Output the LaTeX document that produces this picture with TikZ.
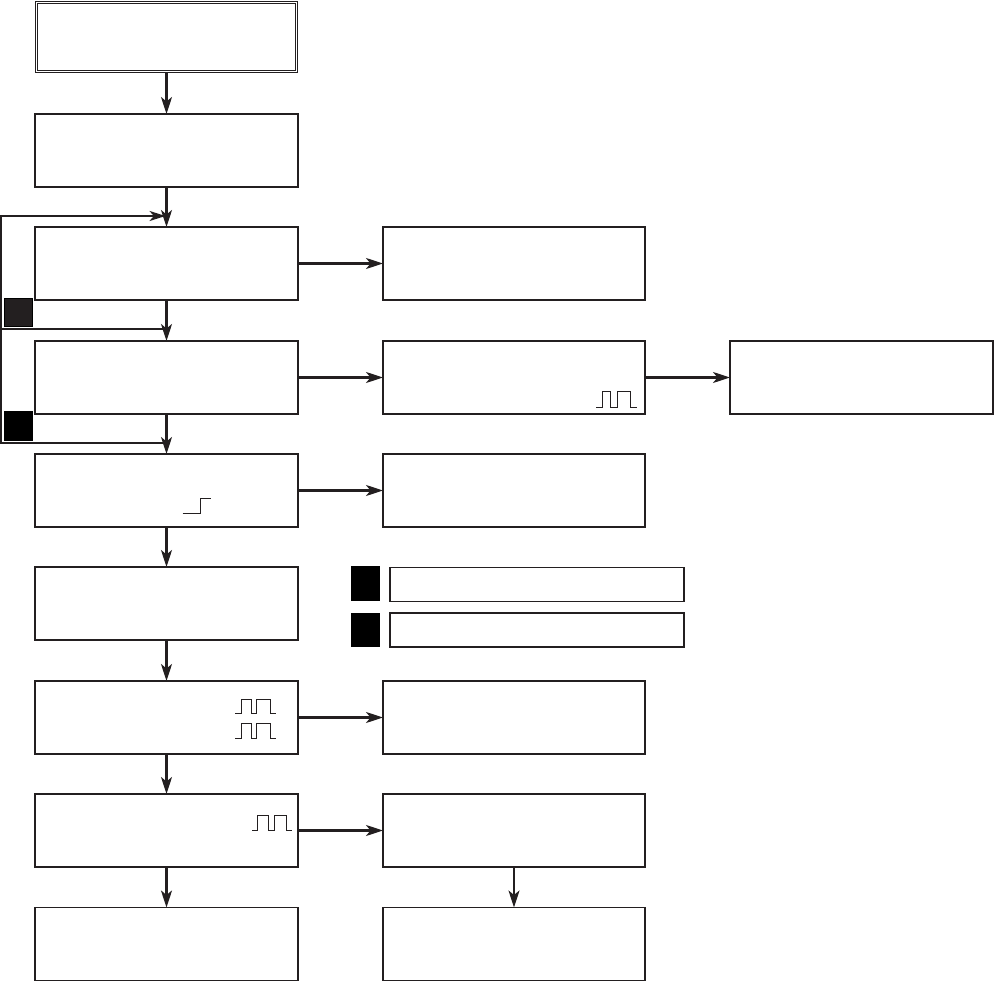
\documentclass[tikz,border=0pt]{standalone}
\usetikzlibrary{arrows.meta}
\definecolor{ink}{RGB}{35,31,32}
\begin{document}
\begin{tikzpicture}[x=1pt,y=-1pt,
  box/.style={draw=ink,line width=1.2pt,minimum width=263pt,minimum height=73pt,inner sep=0pt,outer sep=0pt},
  legbox/.style={draw=ink,line width=1.2pt,minimum width=294pt,minimum height=34pt,inner sep=0pt,outer sep=0pt},
  sq/.style={fill=black,draw=black,line width=0.8pt,minimum width=28pt,minimum height=28pt,inner sep=0pt,outer sep=0pt},
  arr/.style={draw=ink,line width=2.2pt,-{Stealth[length=17pt,width=11pt,inset=4.5pt]}},
  ln/.style={draw=ink,line width=2.2pt},
  sig/.style={draw=ink,line width=1pt}
]
\useasboundingbox (0,0) rectangle (994,981);
% left column
\node[box,line width=1.8pt,minimum width=262pt,minimum height=71pt] (L1) at (166.5,37) {};
\draw[ink,line width=0.9pt] ([shift={(2.4,2.4)}]L1.north west) rectangle ([shift={(-2.4,-2.4)}]L1.south east);
\node[box] (L2) at (166.5,150.5) {};
\node[box] (L3) at (166.5,263.5) {};
\node[box] (L4) at (166.5,377.5) {};
\node[box] (L5) at (166.5,490.5) {};
\node[box] (L6) at (166.5,603.5) {};
\node[box] (L7) at (166.5,717.5) {};
\node[box] (L8) at (166.5,830.5) {};
\node[box] (L9) at (166.5,944) {};
% middle column
\node[box,minimum width=262pt] (M3) at (514,263.5) {};
\node[box,minimum width=262pt] (M4) at (514,377.5) {};
\node[box,minimum width=262pt] (M5) at (514,490.5) {};
\node[box,minimum width=262pt] (M7) at (514,717.5) {};
\node[box,minimum width=262pt] (M8) at (514,830.5) {};
\node[box,minimum width=262pt] (M9) at (514,944) {};
% right column
\node[box] (R4) at (861.5,377.5) {};
% legend
\node[sq,minimum width=28.5pt,minimum height=34pt] (K1) at (365.5,583.7) {};
\node[sq,minimum width=28.5pt,minimum height=33pt] (K2) at (365.5,630) {};
\node[legbox] (G1) at (537,584.5) {};
\node[legbox] (G2) at (537,630) {};
% loop squares
\node[sq,fill=ink] (S1) at (18,312) {};
\node[sq,minimum height=29pt] (S2) at (18,425.5) {};
% vertical arrows
\draw[arr] (L1) -- (L2);
\draw[arr] (L2) -- (L3);
\draw[arr] (L3) -- (L4);
\draw[arr] (L4) -- (L5);
\draw[arr] (L5) -- (L6);
\draw[arr] (L6) -- (L7);
\draw[arr] (L7) -- (L8);
\draw[arr] (L8) -- (L9);
\draw[arr] (M8) -- (M9);
% horizontal arrows
\draw[arr] (L3) -- (M3);
\draw[arr] (L4) -- (M4);
\draw[arr] (M4) -- (R4);
\draw[arr] (L5) -- (M5);
\draw[arr] (L7) -- (M7);
\draw[arr] (L8) -- (M8);
% feedback loop
\coordinate (J1) at (166.5,216);
\coordinate (J2) at (166.5,329);
\coordinate (J3) at (166.5,443);
\coordinate (C1) at (1.2,216);
\coordinate (C2) at (1.2,329);
\coordinate (C3) at (1.2,443);
\draw[ln] (C2) -- (J2);
\draw[ln] (C3) -- (J3);
\draw[ln,line cap=rect] (C1) -- (C3);
\draw[arr,-{Stealth[length=16pt,width=10pt,inset=4.5pt]}] (C1) -- ([xshift=-1pt]J1);
% signal symbols
\draw[sig] (596,407.3) -- (602.7,407.3) -- (602.7,392) -- (610,392) -- (610,407.3) -- (617.3,407.3) -- (617.3,392) -- (630.7,392) -- (630.7,407.3) -- (636.7,407.3);
\draw[sig] (182.7,513.3) -- (200,513.3) -- (200,498.3) -- (211,498.3);
\draw[sig] (235,713.3) -- (241.7,713.3) -- (241.7,699.3) -- (251,699.3) -- (251,713.3) -- (256.7,713.3) -- (256.7,699.3) -- (270,699.3) -- (270,713.3) -- (276,713.3);
\draw[sig] (235,738.7) -- (241.7,738.7) -- (241.7,723.3) -- (251,723.3) -- (251,738.7) -- (256.7,738.7) -- (256.7,723.3) -- (270,723.3) -- (270,738.7) -- (276,738.7);
\draw[sig] (252.3,830) -- (257.7,830) -- (257.7,815) -- (268.3,815) -- (268.3,830) -- (274,830) -- (274,815) -- (286,815) -- (286,830) -- (291.7,830);
\end{tikzpicture}
\end{document}
